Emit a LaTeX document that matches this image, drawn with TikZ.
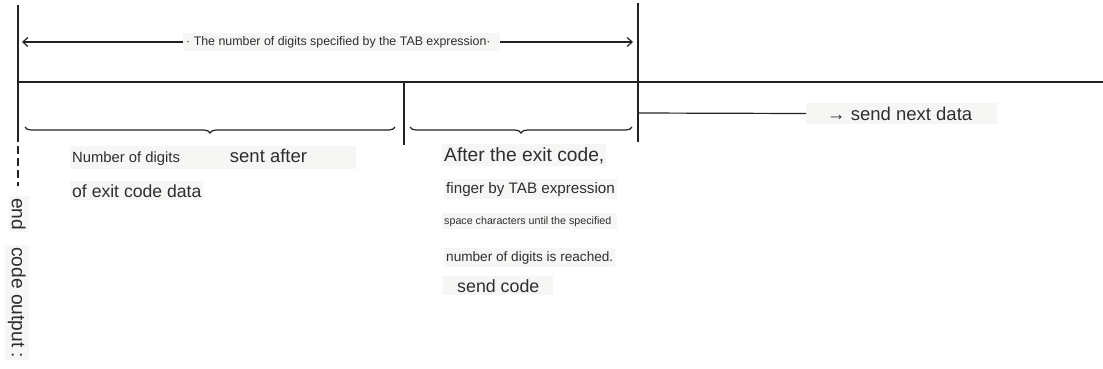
\documentclass[tikz,border=0pt]{standalone}
\usepackage{fontspec}
\setmainfont{Liberation Sans}
\usetikzlibrary{arrows.meta,decorations.pathreplacing}
\definecolor{ink}{HTML}{222222}
\definecolor{txt}{HTML}{2E2E2E}
\definecolor{lbg}{HTML}{F6F7F4}
\newcommand\fsz[1]{\fontsize{#1pt}{#1pt}\selectfont}
\begin{document}
\begin{tikzpicture}[x=1pt,y=-1pt,
  rule/.style={draw=ink,line width=1.7pt},
  thinrule/.style={draw=ink,line width=1.2pt},
  lbl/.style={text=txt,fill=lbg,inner xsep=2pt,inner ysep=3pt,anchor=base west},
  arr/.style={thinrule,-{Straight Barb[length=5pt,width=9pt,line width=1.2pt]}},
  brc/.style={thinrule,decorate,decoration={brace,mirror,amplitude=6pt}}]
\useasboundingbox (0,0) rectangle (1103,368);

% frame coordinates
\coordinate (Ltop) at (18,5);
\coordinate (Lmid) at (18,82);
\coordinate (Lsol) at (18,134);
\coordinate (Lend) at (18,186);
\coordinate (Rtop) at (638,3);
\coordinate (Rmid) at (638,82);
\coordinate (Rnext) at (638,113);
\coordinate (Rbot) at (638,142);
\coordinate (Mtop) at (404,82);
\coordinate (Mbot) at (404,145);
\coordinate (Hend) at (1103,82);
\coordinate (aL) at (22,41);
\coordinate (aR) at (633,41);

% lines
\draw[rule] (Ltop) -- (Lsol);
\draw[rule,dash pattern=on 8pt off 4pt] (Lsol) -- (Lend);
\draw[rule] (Rtop) -- (Rbot);
\draw[rule] (Mtop) -- (Mbot);
\draw[rule] (Lmid) -- (Hend);

% top dimension
\node[lbl,font=\fsz{12.4},inner xsep=3pt] (toptxt) at (183,45.2)
  {· The number of digits specified by the TAB expression·\hspace*{6pt}};
\draw[arr] (toptxt.west) -- (toptxt.west -| aL);
\draw[arr] (toptxt.east) -- (toptxt.east -| aR);

% send next data
\node[text=txt,fill=lbg,anchor=west,inner xsep=2pt,inner ysep=3.5pt,font=\fsz{18.5}] (next) at (806,113.5)
  {\hspace*{19pt}→ send next data\hspace*{23pt}};
\draw[thinrule] (Rnext) -- (next.west);

% braces
\draw[brc] (25,127) -- (395,127);
\draw[brc] (410,127) -- (632,127);

% left texts
\node[lbl,font=\fsz{14.8}] (ndig) at (70,162.5)
  {Number of digits\hspace*{50pt}{\fsz{18.5}sent after}\hspace*{47pt}};
\node[lbl,font=\fsz{17.6}] (exitd) at (70,197) {of exit code data};

% right texts
\node[lbl,font=\fsz{19.2}] (after) at (442,161) {After the exit code,};
\node[lbl,font=\fsz{15.2}] (finger) at (444,193) {finger by TAB expression};
\node[lbl,font=\fsz{10.7}] (space) at (442,224) {space characters until the specified\hspace*{4pt}};
\node[lbl,font=\fsz{13.6}] (numd) at (444,261) {number of digits is reached.};
\node[lbl,font=\fsz{17.8}] (sendc) at (443,292) {\hspace*{12pt}send code\hspace*{12pt}};

% vertical text
\node[lbl,rotate=-90,font=\fsz{19.2}] (vend) at (12,196) {end};
\node[lbl,rotate=-90,font=\fsz{19.2}] (vcode) at (12,245) {code output :};
\end{tikzpicture}
\end{document}
